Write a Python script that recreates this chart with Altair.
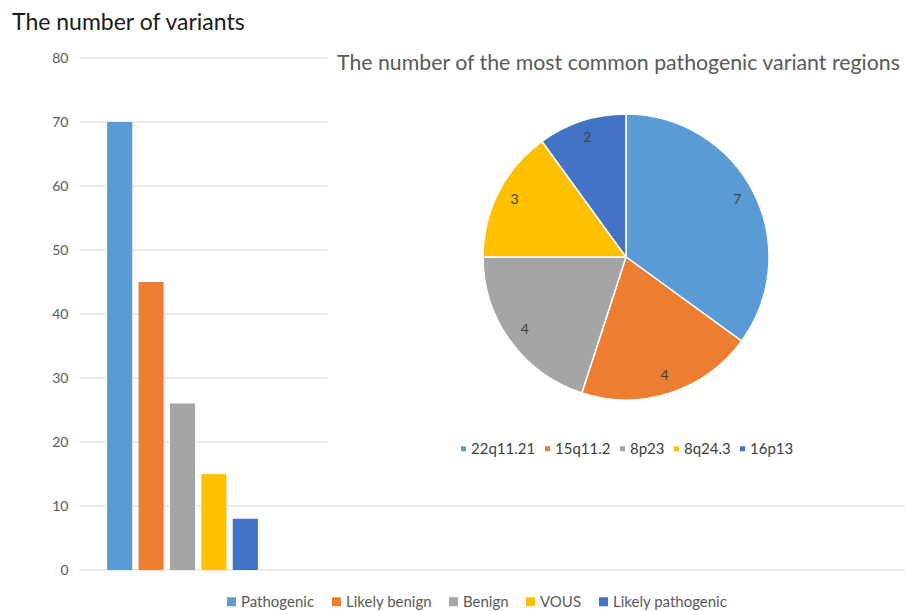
import altair as alt
import pandas as pd

# ---- data ----
bar_categories = ["Pathogenic", "Likely benign", "Benign", "VOUS", "Likely pathogenic"]
bar_values = [70, 45, 26, 15, 8]
bar_colors = ["#5B9BD5", "#ED7D31", "#A5A5A5", "#FFC000", "#4472C4"]

pie_regions = ["22q11.21", "15q11.2", "8p23", "8q24.3", "16p13"]
pie_values = [7, 4, 4, 3, 2]
pie_colors = ["#5B9BD5", "#ED7D31", "#A5A5A5", "#FFC000", "#4472C4"]

y_ticks = [0, 10, 20, 30, 40, 50, 60, 70, 80]

FONT = "Lato"
W, H = 825, 512

bar_df = pd.DataFrame({"category": bar_categories, "value": bar_values})
pie_df = pd.DataFrame({"region": pie_regions, "count": pie_values,
                       "idx": list(range(len(pie_regions)))})
grid_df = pd.DataFrame({"tick": y_ticks})

y_scale = alt.Scale(domain=[0, 80], nice=False)

grid = alt.Chart(grid_df).mark_rule(color="#D9D9D9", strokeWidth=1).encode(
    y=alt.Y("tick:Q", scale=y_scale, title=None,
            axis=alt.Axis(values=y_ticks, grid=False, domain=False, ticks=False,
                          labelPadding=12, labelFont=FONT, labelFontSize=14,
                          labelColor="#595959")),
    x=alt.value(0), x2=alt.value(W),
)

bars = alt.Chart(bar_df).mark_bar().encode(
    x=alt.X("category:N", sort=bar_categories, axis=None,
            scale=alt.Scale(range=[24, 181], paddingInner=0.2, paddingOuter=0.1)),
    y=alt.Y("value:Q", scale=y_scale, title=None),
    color=alt.Color("category:N", sort=bar_categories,
                    scale=alt.Scale(domain=bar_categories, range=bar_colors),
                    legend=alt.Legend(title=None, orient="none", direction="horizontal",
                                      legendX=144, legendY=536, symbolType="square",
                                      symbolSize=81, symbolStrokeWidth=0,
                                      labelFont=FONT, labelFontSize=15,
                                      labelColor="#595959", columnPadding=14,
                                      labelOffset=2)),
)

# white panel of the pie chart area, hides the grid lines behind it
panel = alt.Chart(alt.Data(values=[{}])).mark_rect(color="white").encode(
    x=alt.value(247), x2=alt.value(W + 2), y=alt.value(-3), y2=alt.value(420)
)

CX, CY = 546, 199

arcs = alt.Chart(pie_df).mark_arc(outerRadius=143, stroke="white", strokeWidth=1.5).encode(
    theta=alt.Theta("count:Q", stack=True),
    order=alt.Order("idx:Q"),
    color=alt.Color("region:N", sort=pie_regions,
                    scale=alt.Scale(domain=pie_regions, range=pie_colors),
                    legend=alt.Legend(title=None, orient="none", direction="horizontal",
                                      legendX=376, legendY=383, symbolType="square",
                                      symbolSize=25, symbolStrokeWidth=0,
                                      labelFont=FONT, labelFontSize=15,
                                      labelColor="#404040", columnPadding=4,
                                      labelOffset=0)),
    x=alt.value(CX), y=alt.value(CY),
)

arc_text = alt.Chart(pie_df).mark_text(radius=125, font=FONT, fontSize=14,
                                       color="#404040").encode(
    theta=alt.Theta("count:Q", stack=True),
    order=alt.Order("idx:Q"),
    text=alt.Text("count:Q"),
    x=alt.value(CX), y=alt.value(CY),
)

pie_title = alt.Chart(alt.Data(values=[{}])).mark_text(
    text="The number of the most common pathogenic variant regions",
    align="left", baseline="alphabetic", font=FONT, fontSize=21.3, color="#595959"
).encode(x=alt.value(257), y=alt.value(12))

chart = alt.layer(grid, bars, panel, arcs, arc_text, pie_title).resolve_scale(
    color="independent", theta="independent"
).properties(
    width=W, height=H,
    autosize=alt.AutoSizeParams(type="none"),
    padding={"left": 72, "top": 50, "right": 1, "bottom": 41},
    title=alt.TitleParams("The number of variants", anchor="start", frame="group",
                          font=FONT, fontSize=23, fontWeight="normal", color="#1a1a1a",
                          dx=-68, offset=16),
).configure_view(stroke=None)

chart.save("out.html", embed_options={"renderer": "svg", "actions": False})
